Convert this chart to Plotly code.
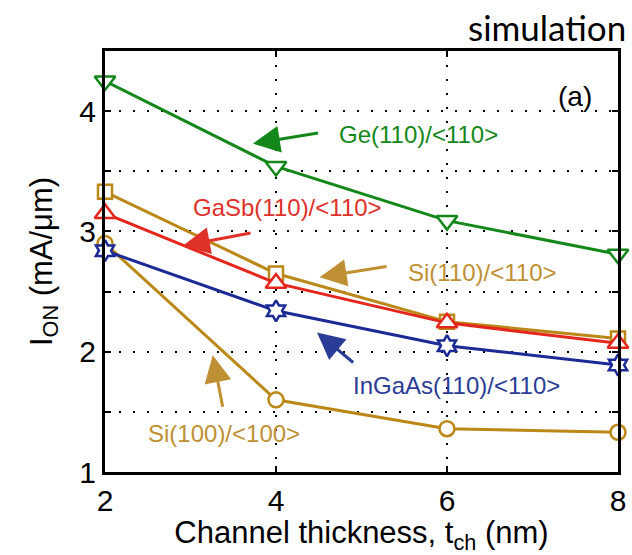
import plotly.graph_objects as go

# Channel thickness (nm)
t_ch = [2, 4, 6, 8]

# On-current I_ON (mA/um) for each channel material / orientation
ge_110 = [4.25, 3.54, 3.09, 2.81]
gasb_110 = [3.15, 2.57, 2.24, 2.07]
si_110 = [3.33, 2.65, 2.25, 2.11]
ingaas_110 = [2.84, 2.34, 2.05, 1.89]
si_100 = [2.90, 1.60, 1.36, 1.33]

x_ticks = [2, 4, 6, 8]
x_ticktext = ["2", "4", "6", "8"]
y_ticks = [1, 2, 3, 4]
y_ticktext = ["1", "2", "3", "4"]

GREEN = "#14871a"
RED = "#e5261d"
GOLD = "#bb8716"
BLUE = "#1b2a95"

series = [
    (si_100, GOLD, "circle", 15),
    (ingaas_110, BLUE, "hexagram", 16),
    (si_110, GOLD, "square", 14),
    (gasb_110, RED, "triangle-up", 18),
    (ge_110, GREEN, "triangle-down", 18),
]

fig = go.Figure()
for ys, col, sym, sz in series:
    fig.add_trace(go.Scatter(
        x=t_ch, y=ys, mode="lines+markers",
        line=dict(color=col, width=3),
        marker=dict(symbol=sym, size=sz, color="white",
                    line=dict(color=col, width=2.5)),
        showlegend=False, cliponaxis=False,
    ))

FONT = "Liberation Sans, Arial, sans-serif"

# (text, colour, text x, text y, arrow tail x, tail y, head x, head y)
labels = [
    ("Ge(110)/<110>", GREEN, 5.67, 3.81, 4.51, 3.82, 3.73, 3.73),
    ("GaSb(110)/<110>", "#e0302a", 4.13, 3.20, 3.72, 2.99, 2.91, 2.88),
    ("Si(110)/<110>", "#bf9033", 6.41, 2.66, 5.31, 2.71, 4.51, 2.62),
    ("InGaAs(110)/<110>", "#2a3c96", 6.11, 1.72, 4.92, 1.90, 4.48, 2.16),
    ("Si(100)/<100>", "#bf9033", 3.39, 1.32, 3.38, 1.53, 3.26, 1.97),
]
for txt, col, tx, ty, ax_, ay_, hx, hy in labels:
    fig.add_annotation(x=tx, y=ty, xref="x", yref="y", text=txt,
                       showarrow=False, font=dict(family=FONT, size=24, color=col))
    fig.add_annotation(x=hx, y=hy, ax=ax_, ay=ay_, xref="x", yref="y",
                       axref="x", ayref="y", text="", showarrow=True,
                       arrowhead=2, arrowsize=1.8, arrowwidth=3,
                       arrowcolor=col)

fig.add_annotation(x=7.5, y=4.12, xref="x", yref="y", text="(a)",
                   showarrow=False, font=dict(family=FONT, size=28, color="black"))
fig.add_annotation(x=1.0195, y=1.057, xref="paper", yref="paper",
                   text="simulation", showarrow=False, xanchor="right",
                   yanchor="middle",
                   font=dict(family="Lato, sans-serif", size=35, color="black"))

grid_style = dict(showgrid=True, gridcolor="black", gridwidth=2,
                  griddash="2px,12px")
tick_style = dict(ticks="inside", ticklen=6, tickwidth=2, tickcolor="black")

axis_common = dict(
    showline=True, linewidth=3, linecolor="black", mirror="ticks",
    zeroline=False,
    tickfont=dict(family=FONT, size=30, color="black"),
    **grid_style, **tick_style,
)

fig.update_xaxes(range=[2, 8], tickvals=x_ticks, ticktext=x_ticktext,
                 title=dict(text="Channel thickness, t<sub>ch</sub> (nm)",
                            font=dict(family=FONT, size=31, color="black"),
                            standoff=6),
                 **axis_common)
fig.update_yaxes(range=[1, 4.5], tickvals=y_ticks, ticktext=y_ticktext,
                 minor=dict(tick0=1, dtick=0.5, **grid_style, **tick_style),
                 title=dict(text="I<sub>ON</sub> (mA/μm)",
                            font=dict(family=FONT, size=31, color="black"),
                            standoff=18),
                 **axis_common)

fig.update_layout(
    width=632, height=555,
    margin=dict(l=105, r=14, t=51, b=83, autoexpand=False),
    plot_bgcolor="white", paper_bgcolor="white",
)

fig.write_html("out.html")
